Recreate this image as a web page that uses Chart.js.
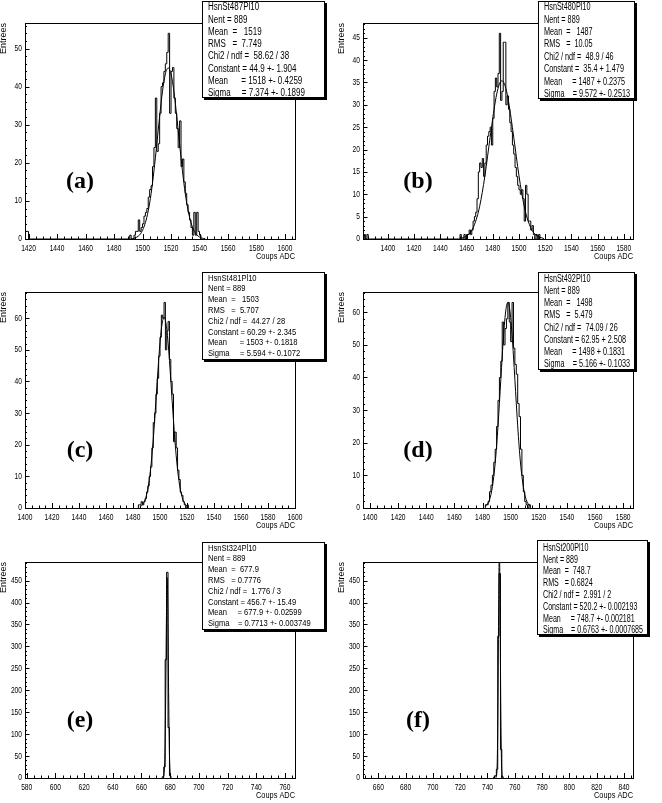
<!DOCTYPE html>
<html>
<head>
<meta charset="utf-8">
<script src="https://cdn.jsdelivr.net/npm/chart.js@4.4.1/dist/chart.umd.min.js"></script>
<style>
body { margin: 0; background: #fff; width: 662px; height: 803px; position: relative; overflow: hidden; }
canvas { position: absolute; }
</style>
</head>
<body>
<canvas id="ca" width="331" height="264" style="left:0;top:0"></canvas>
<canvas id="cb" width="324" height="264" style="left:338px;top:0"></canvas>
<canvas id="cc" width="331" height="264" style="left:0;top:269px"></canvas>
<canvas id="cd" width="324" height="264" style="left:338px;top:269px"></canvas>
<canvas id="ce" width="331" height="264" style="left:0;top:539px"></canvas>
<canvas id="cf" width="324" height="264" style="left:338px;top:539px"></canvas>
<script>
// ---- (a) HsnSt487Pl10 ----
var xTicksA = [1420, 1440, 1460, 1480, 1500, 1520, 1540, 1560, 1580, 1600];
var yTicksA = [0, 10, 20, 30, 40, 50];
var lowStartA = 1416;
var lowCountsA = [2, 2, 2, 2];
var startA = 1491;
var countsA = [1, 0, 0, 1, 2, 2, 5, 2, 3, 4,
  6, 7, 8, 11, 13, 14, 19, 24, 37, 23,
  25, 33, 40, 41, 44, 46, 49, 54, 33, 44,
  45, 37, 33, 29, 24, 31, 19, 21, 15, 12,
  9, 7, 5, 3, 1, 7, 1, 7, 2, 1];
var fitXA = [1492, 1494, 1496, 1498, 1500, 1502, 1504, 1506, 1508, 1510, 1512, 1514, 1516, 1518,
  1520, 1522, 1524, 1526, 1528, 1530, 1532, 1534, 1536, 1538, 1540, 1542, 1544];
var fitYA = [0.1, 0.2, 0.5, 1.1, 2.3, 4.3, 7.4, 11.9, 17.9, 24.9, 32.2, 38.8, 43.3, 44.9,
  43.3, 38.8, 32.2, 24.9, 17.9, 11.9, 7.4, 4.3, 2.3, 1.1, 0.5, 0.2, 0.1];
var statsA = ['HsnSt487Pl10', 'Nent = 889', 'Mean  =   1519', 'RMS   =  7.749', 'Chi2 / ndf =  58.62 / 38',
  'Constant = 44.9 +- 1.904', 'Mean      = 1518 +- 0.4259', 'Sigma     = 7.374 +- 0.1899'];

// ---- (b) HsnSt480Pl10 ----
var xTicksB = [1400, 1420, 1440, 1460, 1480, 1500, 1520, 1540, 1560, 1580];
var yTicksB = [0, 5, 10, 15, 20, 25, 30, 35, 40, 45];
var lowStartB = 1382;
var lowCountsB = [1, 0, 1];
var startB = 1455;
var countsB = [1, 0, 0, 1, 0, 1, 1, 2, 1, 2,
  4, 5, 6, 9, 15, 17, 16, 18, 14, 17,
  21, 23, 24, 25, 21, 27, 33, 36, 34, 37,
  46, 31, 33, 44, 44, 30, 32, 29, 26, 24,
  21, 19, 16, 14, 12, 11, 10, 11, 9, 4,
  12, 10, 4, 4, 2, 3, 1, 0, 1, 0, 1];
var fitXB = [1455, 1457, 1459, 1461, 1463, 1465, 1467, 1469, 1471, 1473, 1475, 1477, 1479, 1481, 1483, 1485, 1487,
  1489, 1491, 1493, 1495, 1497, 1499, 1501, 1503, 1505, 1507, 1509, 1511, 1513, 1515, 1517, 1519];
var fitYB = [0.1, 0.3, 0.5, 0.9, 1.5, 2.5, 4.0, 6.0, 8.8, 12.2, 16.2, 20.6, 24.9, 29.0, 32.4, 34.6, 35.4,
  34.6, 32.4, 29.0, 24.9, 20.6, 16.2, 12.2, 8.8, 6.0, 4.0, 2.5, 1.5, 0.9, 0.5, 0.3, 0.1];
var statsB = ['HsnSt480Pl10', 'Nent = 889', 'Mean  =   1487', 'RMS   =  10.05', 'Chi2 / ndf =  48.9 / 46',
  'Constant =  35.4 + 1.479', 'Mean     = 1487 + 0.2375', 'Sigma    = 9.572 +- 0.2513'];

// ---- (c) HsnSt481Pl10 ----
var xTicksC = [1400, 1420, 1440, 1460, 1480, 1500, 1520, 1540, 1560, 1580, 1600];
var yTicksC = [0, 10, 20, 30, 40, 50, 60];
var startC = 1484;
var countsC = [1, 1, 2, 1, 2, 3, 5, 7, 10, 13,
  19, 27, 30, 36, 41, 48, 54, 61, 60, 65,
  50, 56, 59, 47, 40, 36, 21, 24, 19, 12,
  9, 5, 4, 2, 1, 0, 1];
var fitXC = [1485, 1486, 1487, 1488, 1489, 1490, 1491, 1492, 1493, 1494, 1495, 1496, 1497, 1498, 1499, 1500, 1501, 1502, 1503,
  1504, 1505, 1506, 1507, 1508, 1509, 1510, 1511, 1512, 1513, 1514, 1515, 1516, 1517, 1518, 1519, 1520, 1521];
var fitYC = [0.3, 0.6, 1.0, 1.7, 2.6, 4.1, 6.0, 8.7, 12.2, 16.5, 21.7, 27.6, 33.9, 40.4, 46.7, 52.2, 56.6, 59.3, 60.3,
  59.3, 56.6, 52.2, 46.7, 40.4, 33.9, 27.6, 21.7, 16.5, 12.2, 8.7, 6.0, 4.1, 2.6, 1.7, 1.0, 0.6, 0.3];
var statsC = ['HsnSt481Pl10', 'Nent = 889', 'Mean  =   1503', 'RMS   =  5.707', 'Chi2 / ndf =  44.27 / 28',
  'Constant = 60.29 +- 2.345', 'Mean      = 1503 +- 0.1818', 'Sigma     = 5.594 +- 0.1072'];

// ---- (d) HsnSt492Pl10 ----
var xTicksD = [1400, 1420, 1440, 1460, 1480, 1500, 1520, 1540, 1560, 1580];
var yTicksD = [0, 10, 20, 30, 40, 50, 60];
var startD = 1482;
var countsD = [1, 1, 2, 5, 7, 10, 14, 18, 25, 33,
  40, 45, 57, 50, 55, 58, 63, 57, 51, 63,
  49, 44, 41, 32, 28, 18, 10, 5, 2, 1, 0, 1];
var fitXD = [1482, 1483, 1484, 1485, 1486, 1487, 1488, 1489, 1490, 1491, 1492, 1493, 1494, 1495, 1496, 1497, 1498,
  1499, 1500, 1501, 1502, 1503, 1504, 1505, 1506, 1507, 1508, 1509, 1510, 1511, 1512, 1513, 1514];
var fitYD = [0.5, 0.9, 1.6, 2.6, 4.2, 6.5, 9.7, 13.8, 19.0, 25.2, 32.1, 39.4, 46.6, 53.1, 58.4, 61.8, 63.0,
  61.8, 58.4, 53.1, 46.6, 39.4, 32.1, 25.2, 19.0, 13.8, 9.7, 6.5, 4.2, 2.6, 1.6, 0.9, 0.5];
var statsD = ['HsnSt492Pl10', 'Nent = 889', 'Mean  =   1498', 'RMS   =  5.479', 'Chi2 / ndf =  74.09 / 26',
  'Constant = 62.95 + 2.508', 'Mean     = 1498 + 0.1831', 'Sigma    = 5.166 +- 0.1033'];

// ---- (e) HsnSt324Pl10 ----
var xTicksE = [580, 600, 620, 640, 660, 680, 700, 720, 740, 760];
var yTicksE = [0, 50, 100, 150, 200, 250, 300, 350, 400, 450];
var startE = 674.5;
var countsE = [3, 25, 270, 469, 115, 5];
var fitXE = [675.4, 675.9, 676.4, 676.9, 677.4, 677.9, 678.4, 678.9, 679.4, 679.9, 680.4];
var fitYE = [2, 16, 69, 197, 370, 457, 370, 197, 69, 16, 2];
var statsE = ['HsnSt324Pl10', 'Nent = 889', 'Mean  =  677.9', 'RMS   = 0.7776', 'Chi2 / ndf =  1.776 / 3',
  'Constant = 456.7 +- 15.49', 'Mean     = 677.9 +- 0.02599', 'Sigma    = 0.7713 +- 0.003749'];

// ---- (f) HsnSt200Pl10 ----
var xTicksF = [660, 680, 700, 720, 740, 760, 780, 800, 820, 840];
var yTicksF = [0, 50, 100, 150, 200, 250, 300, 350, 400, 450];
var startF = 744.5;
var countsF = [2, 5, 20, 323, 466, 65, 3];
var fitXF = [746.2, 746.7, 747.2, 747.7, 748.2, 748.7, 749.2, 749.7, 750.2, 750.7, 751.2];
var fitYF = [0.6, 6.6, 44.5, 174, 396, 520, 396, 174, 44.5, 6.6, 0.6];
var statsF = ['HsnSt200Pl10', 'Nent = 889', 'Mean  =  748.7', 'RMS   = 0.6824', 'Chi2 / ndf =  2.991 / 2',
  'Constant = 520.2 +- 0.002193', 'Mean     = 748.7 +- 0.002181', 'Sigma    = 0.6763 +- 0.0007685'];

var SANS = '"Liberation Sans", Arial, Helvetica, sans-serif';

function histPoints(start, counts) {
  var pts = [{x: start, y: 0}];
  counts.forEach(function (c, i) { pts.push({x: start + i, y: c}); });
  pts.push({x: start + counts.length, y: 0});
  return pts;
}

function zip(xs, ys) {
  return xs.map(function (x, i) { return {x: x, y: ys[i]}; });
}

// condensed text, like the old ROOT Helvetica output
function txt(ctx, s, x, y, font, sx, align) {
  ctx.save();
  ctx.translate(x, y);
  ctx.scale(sx, 1);
  ctx.font = font;
  ctx.textAlign = align || 'left';
  ctx.textBaseline = 'middle';
  ctx.fillStyle = '#000';
  ctx.fillText(s, 0, 0);
  ctx.restore();
}

function makePad(p) {
  return {
    id: 'rootPad',
    afterDraw: function (chart) {
      var ctx = chart.ctx, a = chart.chartArea;
      var xs = chart.scales.x, ys = chart.scales.y;
      ctx.save();
      ctx.strokeStyle = '#000';
      ctx.lineWidth = 1;
      ctx.strokeRect(a.left + 0.5, a.top + 0.5, a.right - a.left, a.bottom - a.top);

      // x ticks (inside the frame)
      var k, v, px, major;
      ctx.beginPath();
      for (k = Math.ceil(p.xMin / p.xMinor); k * p.xMinor <= p.xMax; k++) {
        v = k * p.xMinor;
        px = Math.round(xs.getPixelForValue(v)) + 0.5;
        major = p.xTicks.indexOf(v) >= 0;
        ctx.moveTo(px, a.bottom);
        ctx.lineTo(px, a.bottom - (major ? 5 : 2.5));
      }
      // y ticks
      for (k = 0; k * p.yMinor <= p.yMax; k++) {
        v = k * p.yMinor;
        px = Math.round(ys.getPixelForValue(v)) + 0.5;
        major = p.yTicks.indexOf(v) >= 0;
        ctx.moveTo(a.left, px);
        ctx.lineTo(a.left + (major ? 4.5 : 2), px);
      }
      ctx.stroke();

      var tickFont = '9px ' + SANS;
      p.xTicks.forEach(function (t) {
        txt(ctx, String(t), xs.getPixelForValue(t), a.bottom + 10, tickFont, 0.74, 'center');
      });
      p.yTicks.forEach(function (t) {
        txt(ctx, String(t), a.left - 3, ys.getPixelForValue(t), tickFont, 0.74, 'right');
      });
      txt(ctx, 'Coups ADC', a.right, a.bottom + 18, tickFont, 0.82, 'right');

      ctx.save();
      ctx.translate(a.left - 21, a.top);
      ctx.rotate(-Math.PI / 2);
      txt(ctx, 'Entrées', 0, 0, '9px ' + SANS, 1, 'right');
      ctx.restore();

      txt(ctx, p.tag, a.left + 55, a.top + 159, 'bold 24px "Liberation Serif", "Times New Roman", serif', 1, 'center');

      // statistics box with shadow
      var b = p.box;
      ctx.fillStyle = '#000';
      ctx.fillRect(b[0] + 2, b[1] + 2, b[2], b[3]);
      ctx.fillStyle = '#fff';
      ctx.fillRect(b[0], b[1], b[2], b[3]);
      ctx.strokeRect(b[0] + 0.5, b[1] + 0.5, b[2] - 1, b[3] - 1);
      var statFont = p.statFont + 'px ' + SANS;
      ctx.font = statFont;
      var widest = 0;
      p.stats.forEach(function (s) { widest = Math.max(widest, ctx.measureText(s).width); });
      var sx = Math.min(0.8, (b[2] - 11) / widest);
      p.stats.forEach(function (s, i) {
        txt(ctx, s, b[0] + 6, b[1] + p.first + i * p.step, statFont, sx, 'left');
      });
      ctx.restore();
    }
  };
}

var panels = [
  {id: 'ca', tag: '(a)', hist: histPoints(lowStartA, lowCountsA).concat(histPoints(startA, countsA)),
   fit: zip(fitXA, fitYA), xMin: 1417.5, xMax: 1607, yMax: 56.7, xTicks: xTicksA, yTicks: yTicksA,
   xMinor: 5, yMinor: 2, stats: statsA, box: [202, 1, 123, 97], first: 6.5, step: 12.3, statFont: 10},
  {id: 'cb', tag: '(b)', hist: histPoints(lowStartB, lowCountsB).concat(histPoints(startB, countsB)),
   fit: zip(fitXB, fitYB), xMin: 1381, xMax: 1587, yMax: 48.3, xTicks: xTicksB, yTicks: yTicksB,
   xMinor: 5, yMinor: 1, stats: statsB, box: [200, 1, 97, 98], first: 6.5, step: 12.4, statFont: 10},
  {id: 'cc', tag: '(c)', hist: histPoints(startC, countsC),
   fit: zip(fitXC, fitYC), xMin: 1400, xMax: 1600, yMax: 68.3, xTicks: xTicksC, yTicks: yTicksC,
   xMinor: 5, yMinor: 2, stats: statsC, box: [202, 3, 123, 88], first: 6, step: 10.8, statFont: 9.5},
  {id: 'cd', tag: '(d)', hist: histPoints(startD, countsD),
   fit: zip(fitXD, fitYD), xMin: 1395, xMax: 1587, yMax: 66.2, xTicks: xTicksD, yTicks: yTicksD,
   xMinor: 5, yMinor: 2, stats: statsD, box: [200, 3, 97, 98], first: 7, step: 12.2, statFont: 10},
  {id: 'ce', tag: '(e)', hist: histPoints(startE, countsE),
   fit: zip(fitXE, fitYE), xMin: 578.8, xMax: 767, yMax: 492.5, xTicks: xTicksE, yTicks: yTicksE,
   xMinor: 5, yMinor: 10, stats: statsE, box: [202, 3, 123, 88], first: 6, step: 10.8, statFont: 9.5},
  {id: 'cf', tag: '(f)', hist: histPoints(startF, countsF),
   fit: zip(fitXF, fitYF), xMin: 648.8, xMax: 846.6, yMax: 492.5, xTicks: xTicksF, yTicks: yTicksF,
   xMinor: 5, yMinor: 10, stats: statsF, box: [199, 1, 111, 95], first: 8, step: 11.8, statFont: 10}
];

panels.forEach(function (p) {
  var canvas = document.getElementById(p.id);
  new Chart(canvas, {
    type: 'line',
    data: {
      datasets: [{
        data: p.hist,
        stepped: true,
        borderColor: '#000',
        borderWidth: 1,
        pointRadius: 0,
        fill: false
      }, {
        data: p.fit,
        borderColor: '#000',
        borderWidth: 1,
        pointRadius: 0,
        cubicInterpolationMode: 'monotone',
        fill: false
      }]
    },
    options: {
      responsive: false,
      animation: false,
      devicePixelRatio: 1,
      layout: {padding: {left: 25, top: 23, right: canvas.width - 295, bottom: 25}},
      scales: {
        x: {type: 'linear', display: false, min: p.xMin, max: p.xMax},
        y: {type: 'linear', display: false, min: 0, max: p.yMax}
      },
      plugins: {legend: {display: false}, tooltip: {enabled: false}}
    },
    plugins: [makePad(p)]
  });
});
</script>
</body>
</html>
